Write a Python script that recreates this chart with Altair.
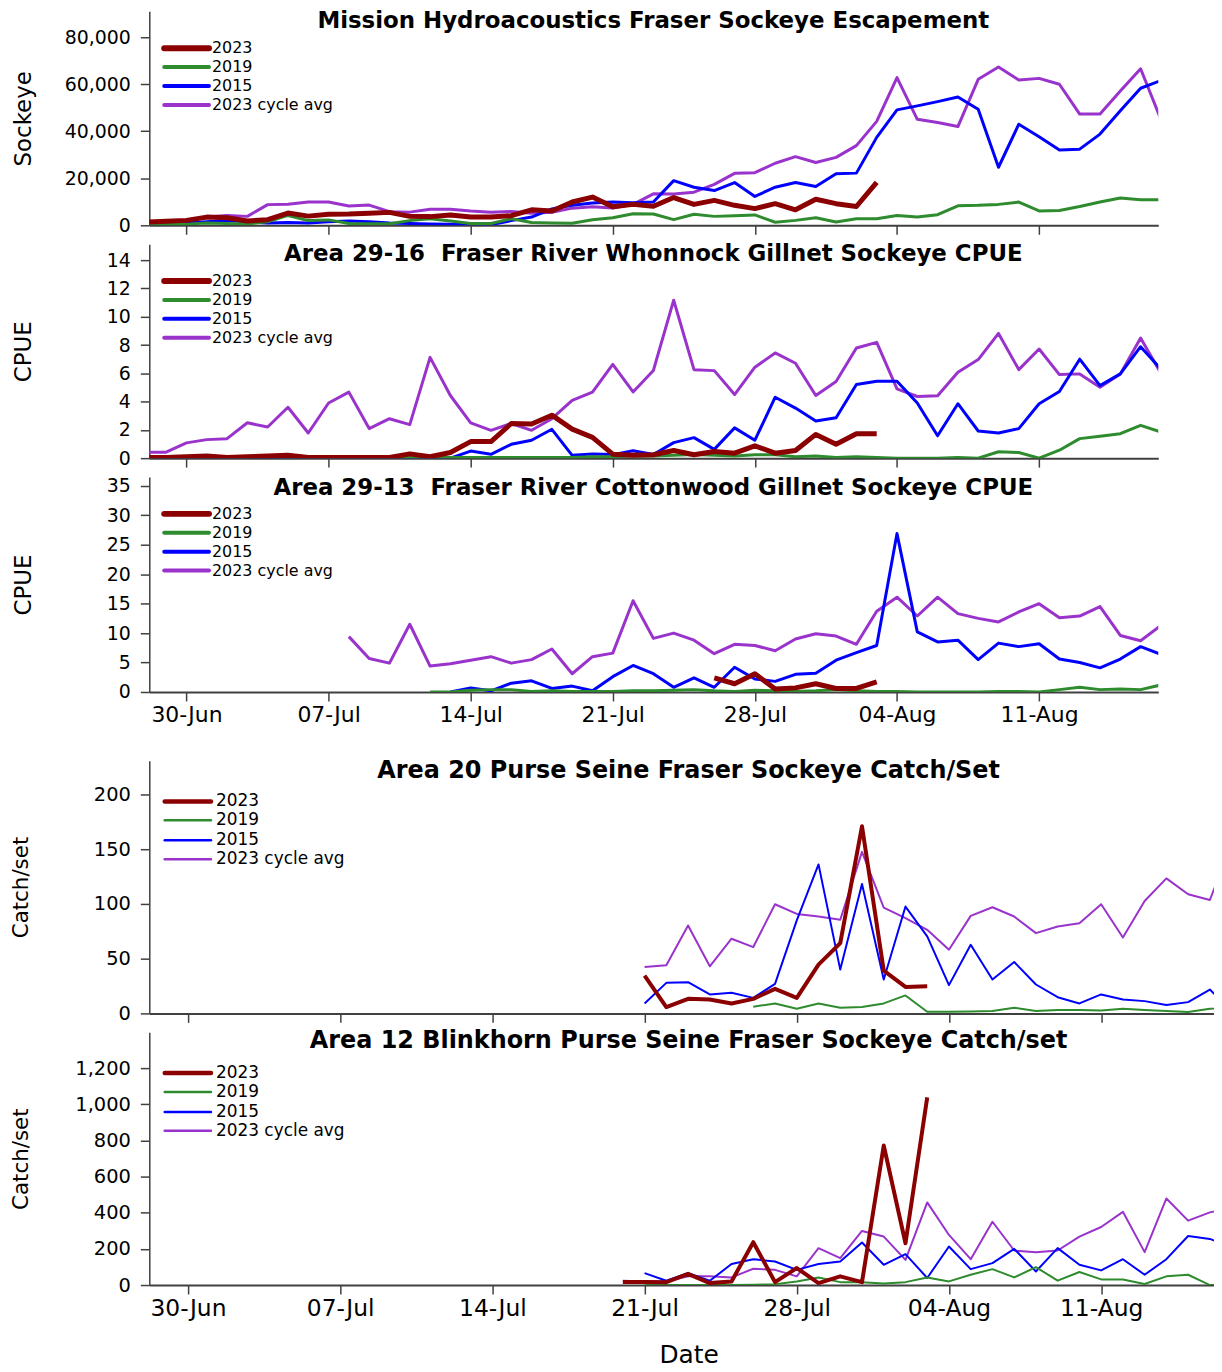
import altair as alt
import pandas as pd

FONT = "DejaVu Sans"
BASE = pd.Timestamp("2023-06-30")
N = None

SERIES = ["2023", "2019", "2015", "2023 cycle avg"]
COLORS = {"2023": "#8B0000", "2019": "#2E8B2E", "2015": "#0000FF", "2023 cycle avg": "#9933CC"}
TICK_DAYS = [0, 7, 14, 21, 28, 35, 42]
TICK_LABELS = ["30-Jun", "07-Jul", "14-Jul", "21-Jul", "28-Jul", "04-Aug", "11-Aug"]
LABEL_EXPR = "[" + ",".join("'%s'" % t for t in TICK_LABELS) + "][round(datum.value/7)]"

# ---- top group: daily from 28-Jun to 17-Aug ----
top_dates = pd.date_range("2023-06-28", "2023-08-17").strftime("%Y-%m-%d").tolist()

esc_2023 = [1300, 1700, 2100, 3500, 3200, 1800, 2400, 5200, 3900, 4700, 4800, 5100, 5500, 3800, 3700,
            4400, 3500, 3500, 4100, 6600, 6100, 9900, 12000, 7900, 8900, 8100, 11800, 8900, 10600, 8500,
            7100, 9200, 6600, 11100, 9200, 8000, 18300] + [N] * 14
esc_2019 = [300, 400, 500, 1000, 800, 600, 1500, 4200, 2000, 2300, 800, 700, 700, 2000, 2800, 1800, 800,
            800, 2800, 1200, 1000, 900, 2400, 3200, 4900, 4800, 2400, 4700, 3800, 4100, 4400, 1300, 2100,
            3200, 1400, 2800, 2800, 4200, 3500, 4500, 8300, 8500, 8900, 9900, 6100, 6300, 8000, 9900,
            11600, 10900, 10900]
esc_2015 = [500, 800, 1000, 1500, 2000, 1500, 1000, 1200, 1000, 1500, 1800, 1500, 1000, 800, 600, 500,
            400, 300, 2000, 3500, 7000, 8500, 9500, 9900, 9600, 9900, 19000, 16200, 14800, 18200, 12300,
            16200, 18200, 16500, 21900, 22200, 37400, 49100, 50800, 52600, 54600, 49400, 24700, 43000,
            37700, 32000, 32400, 38800, 48700, 58300, 61600]
esc_avg = [800, 1300, 2000, 3500, 4200, 3800, 8800, 9000, 9900, 9900, 8200, 8600, 5800, 5600, 6800, 6800,
           6100, 5600, 5900, 5100, 5500, 7300, 7900, 7400, 8900, 13400, 13300, 14100, 17400, 22100, 22400,
           26400, 29200, 26700, 28900, 33900, 44200, 62800, 45100, 43700, 42000, 62100, 67300, 61800,
           62500, 60000, 47300, 47300, 57100, 66600, 45000]

wh_2023 = [0.05, 0.05, 0.1, 0.15, 0.05, 0.1, 0.15, 0.2, 0.05, 0.05, 0.05, 0.05, 0.05, 0.3, 0.1, 0.4,
           1.17, 1.17, 2.45, 2.41, 3.04, 2.05, 1.47, 0.28, 0.2, 0.24, 0.54, 0.24, 0.47, 0.35, 0.87, 0.35,
           0.54, 1.68, 0.98, 1.73, 1.73] + [N] * 14
wh_2019 = [0.05, 0.05, 0.05, 0.05, 0.05, 0.05, 0.1, 0.05, 0.05, 0.05, 0.05, 0.05, 0.05, 0.05, 0.05, 0.05,
           0.05, 0.05, 0.05, 0.05, 0.05, 0.05, 0.1, 0.1, 0.15, 0.15, 0.2, 0.25, 0.2, 0.15, 0.24, 0.24, 0.1,
           0.15, 0.05, 0.1, 0.05, 0.0, 0.0, 0.0, 0.05, 0.0, 0.45, 0.4, 0.0, 0.56, 1.38, 1.55, 1.73, 2.32,
           1.85]
wh_2015 = [0.0] * 15 + [0.0, 0.5, 0.27, 0.98, 1.27, 2.04, 0.2, 0.29, 0.25, 0.52, 0.26, 1.1, 1.45, 0.62,
           2.14, 1.27, 4.31, 3.54, 2.63, 2.86, 5.21, 5.44, 5.44, 3.9, 1.58, 3.85, 1.92, 1.78, 2.09, 3.85,
           4.71, 7.0, 5.13, 5.96, 7.88, 6.3]
wh_avg = [0.42, 0.42, 1.08, 1.31, 1.38, 2.5, 2.2, 3.6, 1.78, 3.9, 4.67, 2.09, 2.79, 2.37, 7.13, 4.43, 2.5,
          1.97, 2.45, 1.97, 2.79, 4.08, 4.67, 6.63, 4.68, 6.2, 11.17, 6.26, 6.19, 4.5, 6.43, 7.44, 6.71,
          4.43, 5.42, 7.79, 8.19, 4.9, 4.36, 4.41, 6.08, 6.97, 8.82, 6.26, 7.72, 5.91, 5.96, 5.02, 5.96,
          8.49, 6.0]

ct_2023 = [N] * 28 + [2.4, 1.4, 3.1, 0.5, 0.7, 1.4, 0.6, 0.6, 1.7] + [N] * 14
ct_2019 = [N] * 14 + [0.0, 0.0, 0.3, 0.4, 0.4, 0.1, 0.2, 0.1, 0.1, 0.1, 0.2, 0.2, 0.3, 0.4, 0.2, 0.1, 0.3,
                      0.2, 0.1, 0.2, 0.4, 0.2, 0.1, 0.1, 0.0, 0.0, 0.0, 0.0, 0.1, 0.1, 0.0, 0.4, 0.8, 0.4,
                      0.5, 0.4, 1.2]
ct_2015 = [N] * 15 + [0.0, 0.7, 0.2, 1.5, 1.9, 0.6, 1.0, 0.2, 2.6, 4.5, 3.1, 0.8, 2.4, 0.8, 4.2, 2.2, 1.8,
                      3.0, 3.2, 5.4, 6.7, 7.9, 26.9, 10.2, 8.5, 8.8, 5.5, 8.3, 7.7, 8.2, 5.6, 5.0, 4.1,
                      5.6, 7.7, 6.4]
ct_avg = [N] * 10 + [9.4, 5.7, 4.9, 11.5, 4.4, 4.8, 5.4, 6.0, 4.9, 5.5, 7.3, 3.1, 6.0, 6.6, 15.5, 9.1,
                     10.0, 8.8, 6.5, 8.1, 7.9, 7.0, 9.0, 9.9, 9.5, 8.1, 13.7, 16.1, 12.9, 16.1, 13.3, 12.5,
                     11.9, 13.6, 15.0, 12.6, 12.9, 14.5, 9.6, 8.7, 11.3]

# ---- bottom group: daily from 20-Jul to 17-Aug ----
bot_dates = pd.date_range("2023-07-20", "2023-08-17").strftime("%Y-%m-%d").tolist()

a20_2023 = [N, 34.5, 5.8, 13.3, 12.7, 9.1, 13.3, 22.4, 14.2, 44.5, 64.2, 170.9, 39.1, 24.2, 24.8] + [N] * 14
a20_2019 = [N] * 6 + [6.1, 9.1, 4.2, 9.1, 5.2, 5.8, 9.1, 16.4, 1.5, 1.5, 1.8, 2.1, 5.2, 2.1, 3.0, 3.0, 2.7,
                      4.2, 3.0, 2.1, 1.2, 4.2, 5.0]
a20_2015 = [N, 9.1, 27.9, 28.5, 17.3, 18.8, 14.2, 27.0, 85.0, 136.1, 40.0, 118.2, 30.9, 97.6, 70.3, 25.8,
            62.7, 30.9, 47.0, 26.4, 14.8, 9.1, 17.3, 12.7, 11.2, 7.6, 10.3, 21.8, 2.0]
a20_avg = [N, 42.4, 43.9, 80.3, 43.0, 68.2, 60.6, 99.7, 90.9, 88.5, 85.5, 147.6, 96.7, 87.0, 76.4, 58.2,
           89.1, 97.0, 88.5, 73.3, 79.4, 82.4, 99.7, 69.4, 102.7, 123.3, 108.8, 103.6, 155.0]

a12_2023 = [16.5, 16.5, 16, 62, 11, 20, 237, 16, 94, 11, 48, 16, 772, 231, 1038] + [N] * 14
a12_2019 = [N, 0, 0, 0, 0, 0, 2, 5, 20, 42, 16, 16, 9, 16, 42, 20, 57, 88, 42, 99, 24, 72, 31, 31, 6, 48,
            57, 0, 0]
a12_2015 = [N, 66, 24, 66, 24, 116, 143, 130, 84, 116, 130, 235, 112, 171, 39, 213, 88, 121, 200, 75, 204,
            112, 81, 143, 57, 143, 271, 255, 210]
a12_avg = [24, 20, 20, 48, 48, 42, 90, 84, 48, 204, 149, 299, 268, 139, 457, 277, 143, 350, 191, 182, 191,
           268, 321, 405, 182, 479, 356, 402, 430]

ONE = pd.DataFrame({"a": [0]})


def make_panel(dates, series, title, ytitle, ymax, yticks, yfmt, xdom, w, h, xlabels, xtitle, st, extra=None):
    xaxis = dict(values=TICK_DAYS, labelExpr=LABEL_EXPR, labels=xlabels, grid=False,
                 domainColor="#404040", domainWidth=2, tickColor="#404040", tickWidth=1.5,
                 tickSize=9, labelFont=FONT, labelFontSize=st["xlab"], labelColor="black",
                 labelPadding=st["xpad"], labelFlush=False, labelOverlap=False)
    if xtitle:
        xaxis.update(title=xtitle, titleFont=FONT, titleFontSize=25, titleFontWeight="normal",
                     titleColor="black", titleX=542, titleY=70, titleAlign="center",
                     titleBaseline="middle")
    else:
        xaxis.update(title=None)
    x_enc = alt.X("d:Q", scale=alt.Scale(domain=xdom, nice=False, zero=False), axis=alt.Axis(**xaxis))
    y_enc = alt.Y("v:Q", scale=alt.Scale(domain=[0, ymax], nice=False, zero=True),
                  axis=alt.Axis(values=yticks, format=yfmt, grid=False, title=ytitle,
                                titleFont=FONT, titleFontSize=st["ytfs"], titleFontWeight="normal",
                                titleColor="black", titleX=st["ytx"], titleY=h / 2, titleAngle=270,
                                titleAlign="center", titleBaseline="middle",
                                labelFont=FONT, labelFontSize=st["ylab"], labelColor="black",
                                labelPadding=10, tickSize=9, tickColor="#404040", tickWidth=1.5,
                                domainColor="#404040", domainWidth=1.5))
    layers = []
    for name in ["2023 cycle avg", "2015", "2019", "2023"]:
        sub = pd.DataFrame({"date": dates, "v": series[name]}).dropna()
        sub["d"] = (pd.to_datetime(sub["date"]) - BASE).dt.days
        sw = st["red_w"] if name == "2023" else st["oth_w"]
        layers.append(alt.Chart(sub).mark_line(color=COLORS[name], strokeWidth=sw, clip=True,
                                               strokeJoin="round").encode(x=x_enc, y=y_enc))
    # in-plot legend
    for i, name in enumerate(SERIES):
        ly = st["leg_y"][i]
        lw = st["leg_red"] if name == "2023" else st["leg_oth"]
        layers.append(alt.Chart(ONE).mark_rule(color=COLORS[name], strokeWidth=lw, strokeCap="round").encode(
            x=alt.value(st["leg_x0"]), x2=alt.value(st["leg_x1"]), y=alt.value(ly)))
        layers.append(alt.Chart(ONE).mark_text(text=name, font=FONT, fontSize=st["leg_fs"], color="black",
                                               align="left", baseline="middle").encode(
            x=alt.value(st["leg_tx"]), y=alt.value(ly)))
    # chart title (drawn inside the plot top, as in the original)
    layers.append(alt.Chart(ONE).mark_text(text=title, font=FONT, fontSize=st["tfs"], fontWeight="bold",
                                           color="black", align="center", baseline="middle").encode(
        x=alt.value(st["tx"]), y=alt.value(st["ty"])))
    if extra is not None:
        layers.append(extra)
    return alt.layer(*layers).properties(width=w, height=h)


TOP = dict(xlab=22, xpad=4, ylab=19, ytx=-126, ytfs=23, red_w=5, oth_w=3, leg_y=[37, 56, 75, 94],
           leg_red=6, leg_oth=4, leg_x0=15, leg_x1=60, leg_tx=63, leg_fs=16, tfs=23, tx=506.5, ty=10)
BOT = dict(xlab=23.5, xpad=3, ylab=19.5, ytx=-128, ytfs=21.5, red_w=4, oth_w=2, leg_y=[41, 60, 80, 99],
           leg_red=4.5, leg_oth=2.5, leg_x0=15.5, leg_x1=62, leg_tx=67, leg_fs=17, tfs=24, tx=542, ty=10)

TOP_X = [-1.83, 47.87]
BOT_X = [-1.78, 47.19]
TW, BW = 1014, 1070

anchor = alt.Chart(ONE).mark_rule(strokeWidth=0, opacity=0).encode(
    x=alt.value(-142), y=alt.value(-2), y2=alt.value(0))

p1 = make_panel(top_dates, {"2023": esc_2023, "2019": esc_2019, "2015": esc_2015, "2023 cycle avg": esc_avg},
                "Mission Hydroacoustics Fraser Sockeye Escapement", "Sockeye", 91000,
                [0, 20000, 40000, 60000, 80000], ",.0f", TOP_X, TW, 215, False, None, TOP, extra=anchor)
p2 = make_panel(top_dates, {"2023": wh_2023, "2019": wh_2019, "2015": wh_2015, "2023 cycle avg": wh_avg},
                "Area 29-16\u00a0 Fraser River Whonnock Gillnet Sockeye CPUE", "CPUE", 15.13,
                [0, 2, 4, 6, 8, 10, 12, 14], "d", TOP_X, TW, 215, False, None, TOP)
p3 = make_panel(top_dates, {"2023": ct_2023, "2019": ct_2019, "2015": ct_2015, "2023 cycle avg": ct_avg},
                "Area 29-13\u00a0 Fraser River Cottonwood Gillnet Sockeye CPUE", "CPUE", 36.5,
                [0, 5, 10, 15, 20, 25, 30, 35], "d", TOP_X, TW, 216, True, None, dict(TOP, ty=11))
p4 = make_panel(bot_dates, {"2023": a20_2023, "2019": a20_2019, "2015": a20_2015, "2023 cycle avg": a20_avg},
                "Area 20 Purse Seine Fraser Sockeye Catch/Set", "Catch/set", 230.9,
                [0, 50, 100, 150, 200], "d", BOT_X, BW, 254, False, None, BOT)
p5 = make_panel(bot_dates, {"2023": a12_2023, "2019": a12_2019, "2015": a12_2015, "2023 cycle avg": a12_avg},
                "Area 12 Blinkhorn Purse Seine Fraser Sockeye Catch/set", "Catch/set", 1398,
                [0, 200, 400, 600, 800, 1000, 1200], ",.0f", BOT_X, BW, 254, True, "Date", dict(BOT, ty=9))

# empty spacer that opens the gap between the two chart groups
spacer = alt.Chart(ONE).mark_rule(strokeWidth=0, opacity=0).encode(
    x=alt.value(0), y=alt.value(0), y2=alt.value(1)).properties(width=10, height=31)

chart = alt.vconcat(p1, p2, p3, spacer, p4, p5, spacing=19, bounds="flush").properties(
    padding={"left": 0, "top": -2, "right": 0, "bottom": 0}, background="white"
).configure_view(stroke=None)

chart.save("out.html", embed_options={"renderer": "svg", "actions": False})
